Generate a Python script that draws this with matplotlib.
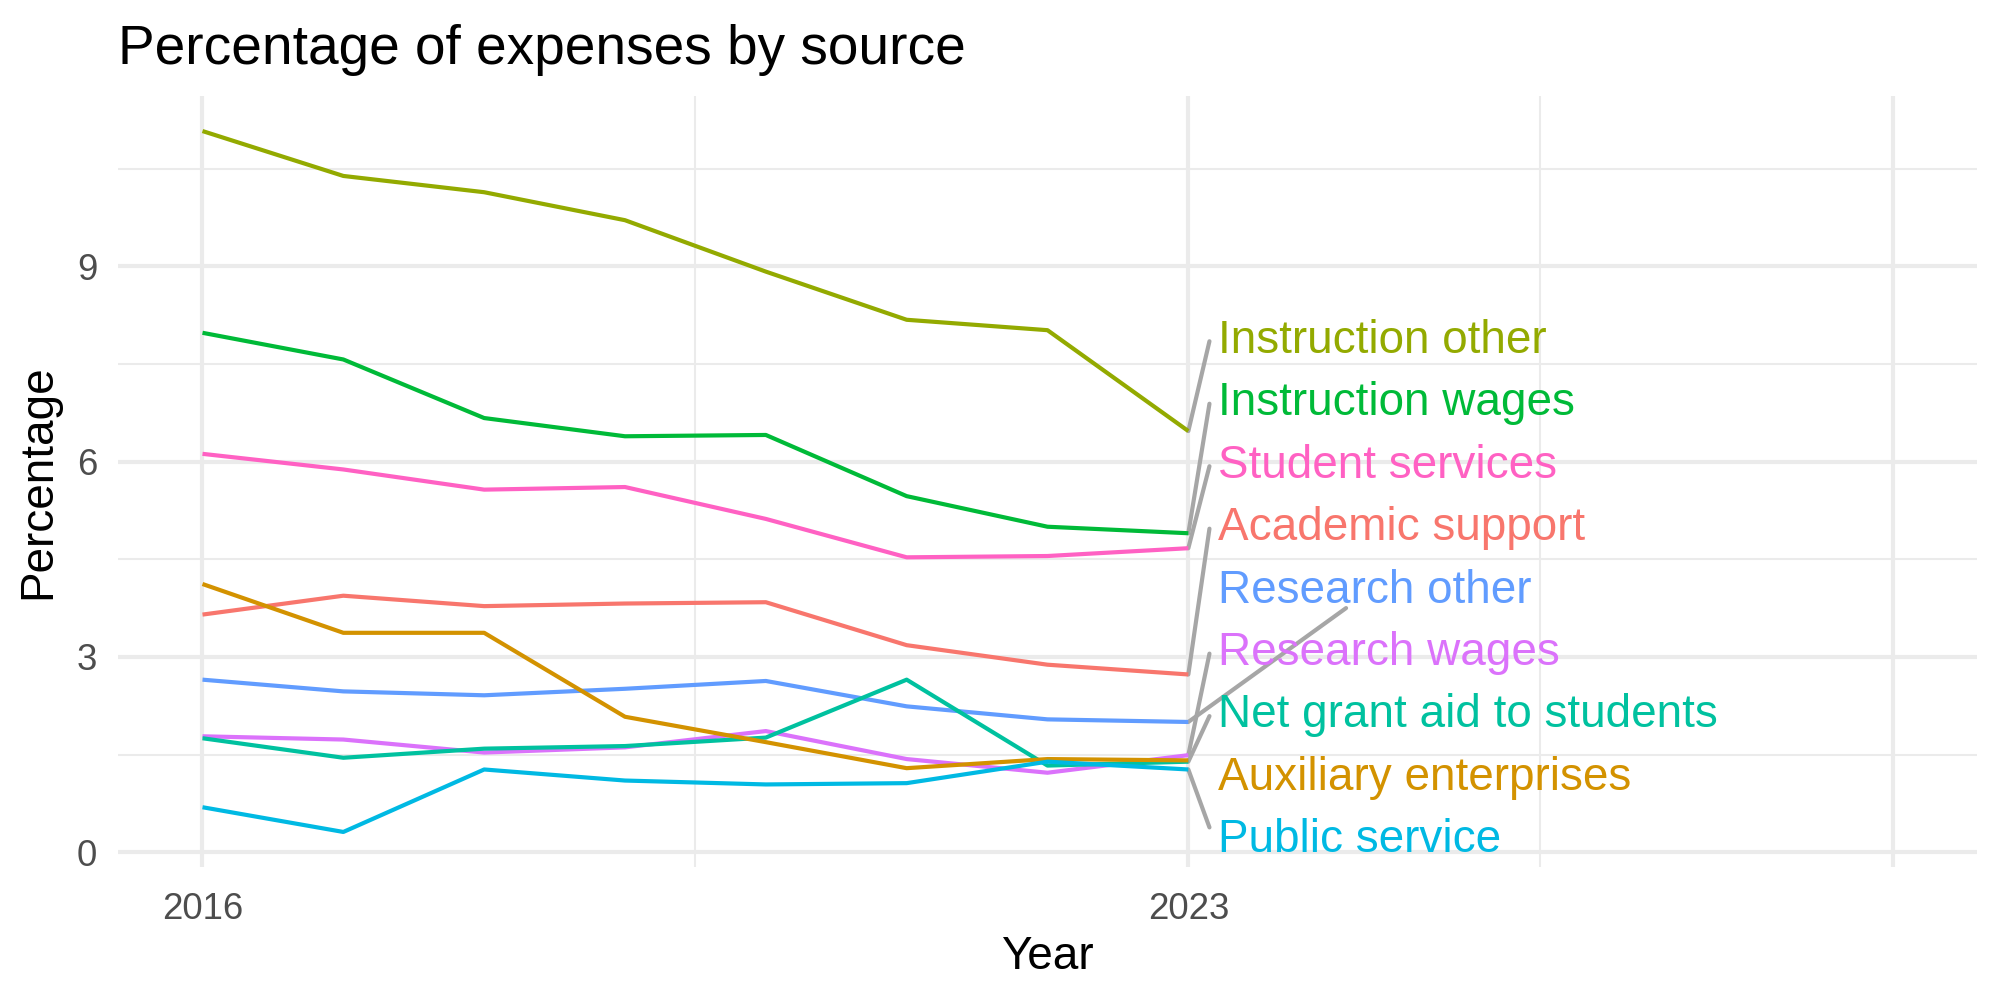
import numpy as np
import matplotlib.pyplot as plt

plt.rcParams['font.family'] = ['Liberation Sans', 'DejaVu Sans']

# data
years = [2016, 2017, 2018, 2019, 2020, 2021, 2022, 2023]

instruction_other = [11.08, 10.39, 10.14, 9.71, 8.92, 8.18, 8.02, 6.47]
instruction_wages = [7.98, 7.57, 6.67, 6.39, 6.41, 5.47, 5.00, 4.90]
student_services = [6.12, 5.88, 5.57, 5.61, 5.12, 4.53, 4.55, 4.67]
academic_support = [3.65, 3.94, 3.78, 3.82, 3.84, 3.18, 2.88, 2.73]
research_other = [2.65, 2.47, 2.41, 2.51, 2.63, 2.24, 2.04, 2.00]
research_wages = [1.78, 1.73, 1.53, 1.61, 1.86, 1.43, 1.22, 1.49]
net_grant_aid = [1.75, 1.45, 1.59, 1.63, 1.76, 2.65, 1.33, 1.39]
auxiliary = [4.12, 3.37, 3.37, 2.08, 1.69, 1.29, 1.43, 1.41]
public_service = [0.69, 0.31, 1.27, 1.10, 1.04, 1.06, 1.39, 1.27]

# label order, top to bottom, as placed by the repel step
sources = ['Instruction other', 'Instruction wages', 'Student services',
           'Academic support', 'Research other', 'Research wages',
           'Net grant aid to students', 'Auxiliary enterprises', 'Public service']
series = [instruction_other, instruction_wages, student_services,
          academic_support, research_other, research_wages,
          net_grant_aid, auxiliary, public_service]
colors = ['#93AA00', '#00BA38', '#FF61C3', '#F8766D', '#619CFF',
          '#DB72FB', '#00C19F', '#D39200', '#00B9E3']

fig = plt.figure(figsize=(20 / 3, 10 / 3), dpi=300)
ax = fig.add_axes([0.059, 0.133, 0.9295, 0.771])

for vals, col in zip(series, colors):
    ax.plot(years, vals, color=col, linewidth=1.0, zorder=3, solid_capstyle='butt')

# repelled labels: evenly stacked to the right of the last year
n = len(sources)
label_x = years[-1] + 0.21
label_step = 0.96
seg_x = years[-1] + 0.15
for k, (name, vals, col) in enumerate(zip(sources, series, colors)):
    ly = 0.25 + label_step * (n - 1 - k)
    ax.text(label_x, ly - 0.07, name, color=col, fontsize=11, ha='left', va='center',
            zorder=4)
    end = vals[-1]
    if name == 'Auxiliary enterprises':
        continue  # label close enough: no segment
    if name == 'Research other':
        sx, sy = years[-1] + 1.12, ly - 0.34
    elif ly > end:
        sx, sy = seg_x, ly - 0.08
    else:
        sx, sy = seg_x, ly + 0.13
    ax.plot([years[-1], sx], [end, sy], color='#A6A6A6', linewidth=1.0, zorder=2,
            solid_capstyle='round')

allv = np.concatenate(series)
lo, hi = allv.min(), allv.max()
pad = 0.05 * (hi - lo)
ax.set_ylim(lo - pad, hi + pad)
ax.set_xlim(2016 - 0.6, 2028 + 0.6)

ax.set_xticks([2016, 2023, 2028])
ax.set_xticklabels(['2016', '2023', ''])
ax.set_xticks([2019.5, 2025.5], minor=True)
ax.set_yticks([0, 3, 6, 9])
ax.set_yticks([1.5, 4.5, 7.5, 10.5], minor=True)

ax.grid(which='major', color='#EBEBEB', linewidth=1.0)
ax.grid(which='minor', color='#EBEBEB', linewidth=0.5)
ax.set_axisbelow(True)
for s in ax.spines.values():
    s.set_visible(False)
ax.tick_params(which='both', length=0)
ax.tick_params(axis='both', labelsize=8.8, labelcolor='#4D4D4D')
ax.tick_params(axis='x', pad=6)
ax.tick_params(axis='y', pad=5)

ax.set_xlabel('Year', fontsize=11, labelpad=2)
ax.set_ylabel('Percentage', fontsize=11, labelpad=4)
fig.text(0.059, 0.936, 'Percentage of expenses by source', fontsize=13.2,
         ha='left', va='baseline')

fig.savefig('out.png', dpi=300)
